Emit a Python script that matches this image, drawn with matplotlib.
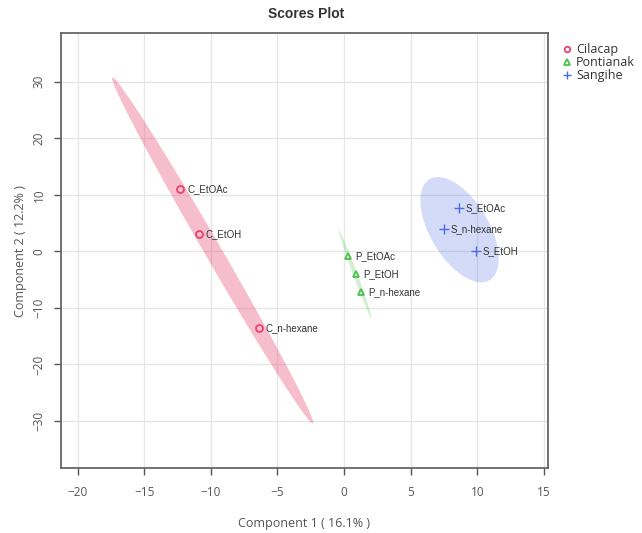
import numpy as np
import matplotlib
matplotlib.use("Agg")
import matplotlib.pyplot as plt

# PLS-DA scores, component 1 / component 2
groups = ["Cilacap", "Pontianak", "Sangihe"]
labels = {
    "Cilacap": ["C_EtOAc", "C_EtOH", "C_n-hexane"],
    "Pontianak": ["P_EtOAc", "P_EtOH", "P_n-hexane"],
    "Sangihe": ["S_EtOAc", "S_n-hexane", "S_EtOH"],
}
comp1 = {
    "Cilacap": [-12.3, -10.9, -6.4],
    "Pontianak": [0.3, 0.9, 1.3],
    "Sangihe": [8.6, 7.5, 9.9],
}
comp2 = {
    "Cilacap": [11.0, 3.0, -13.5],
    "Pontianak": [-0.9, -3.95, -7.25],
    "Sangihe": [7.6, 3.9, 0.0],
}
xticks = [-20, -15, -10, -5, 0, 5, 10, 15]
yticks = [-30, -20, -10, 0, 10, 20, 30]

colors = {"Cilacap": "#E8436E", "Pontianak": "#4DC04D", "Sangihe": "#4D6BE6"}
markers = {"Cilacap": "o", "Pontianak": "^", "Sangihe": "+"}
fill_alpha = {"Cilacap": 0.35, "Pontianak": 0.25, "Sangihe": 0.24}


def conf_ellipse(x, y, level_chi2=5.991, n=200):
    # 95% confidence ellipse from the sample covariance
    x = np.asarray(x)
    y = np.asarray(y)
    cov = np.cov(x, y)
    vals, vecs = np.linalg.eigh(cov)
    vals = np.clip(vals, 0, None)
    t = np.linspace(0, 2 * np.pi, n)
    circ = np.vstack([np.cos(t), np.sin(t)])
    pts = vecs @ (np.sqrt(vals * level_chi2)[:, None] * circ)
    return x.mean() + pts[0], y.mean() + pts[1]


gray = "#555555"
fig = plt.figure(figsize=(6.42, 5.33), dpi=100)
ax = fig.add_axes([0.095, 0.122, 0.758, 0.8155])

ax.set_xlim(-21.25, 15.28)
ax.set_ylim(-38.3, 38.55)
ax.set_xticks(xticks)
ax.set_yticks(yticks)
ax.grid(True, color="#e6e6e6", linewidth=1)
ax.set_axisbelow(True)

for g in groups:
    ex, ey = conf_ellipse(comp1[g], comp2[g])
    ax.fill(ex, ey, color=colors[g], alpha=fill_alpha[g], lw=0, zorder=1)

for g in groups:
    if markers[g] == "+":
        ax.plot(comp1[g], comp2[g], ls="none", marker="+", ms=7, mew=1.0,
                color=colors[g], label=g, zorder=3)
    else:
        ax.plot(comp1[g], comp2[g], ls="none", marker=markers[g], ms=5, mew=1.3,
                mfc="none", mec=colors[g], label=g, zorder=3)
    for xv, yv, lab in zip(comp1[g], comp2[g], labels[g]):
        ax.annotate(lab, (xv, yv), xytext=(5, 0), textcoords="offset points",
                    va="center", ha="left", fontsize=7, color="#333333",
                    family="Liberation Sans", zorder=4)

for s in ax.spines.values():
    s.set_color("#666666")
    s.set_linewidth(1.3)

ax.tick_params(direction="out", length=5, width=1, color="#555555",
               labelcolor=gray, labelsize=8.5)
ax.tick_params(axis="x", pad=8)
ax.tick_params(axis="y", pad=6)
for lab in ax.get_yticklabels():
    lab.set_rotation(90)
    lab.set_va("center")
for lab in ax.get_xticklabels() + ax.get_yticklabels():
    lab.set_family("Open Sans")

ax.set_xlabel("Component 1 ( 16.1% )", fontsize=9, color=gray,
              family="Open Sans", labelpad=13)
ax.set_ylabel("Component 2 ( 12.2% )", fontsize=9, color=gray,
              family="Open Sans", labelpad=4)
fig.text(0.477, 0.973, "Scores Plot", ha="center", va="center",
         fontsize=10, fontweight="bold", color="#333333", family="Liberation Sans")

leg = ax.legend(loc="upper left", bbox_to_anchor=(1.01, 0.998), frameon=False,
                handletextpad=0.2, labelspacing=0.0, markerscale=0.8,
                borderaxespad=0.3, handlelength=1.0,
                prop={"family": "Open Sans", "size": 9})
for t in leg.get_texts():
    t.set_color("#333333")

fig.savefig("out.png", dpi=100)
